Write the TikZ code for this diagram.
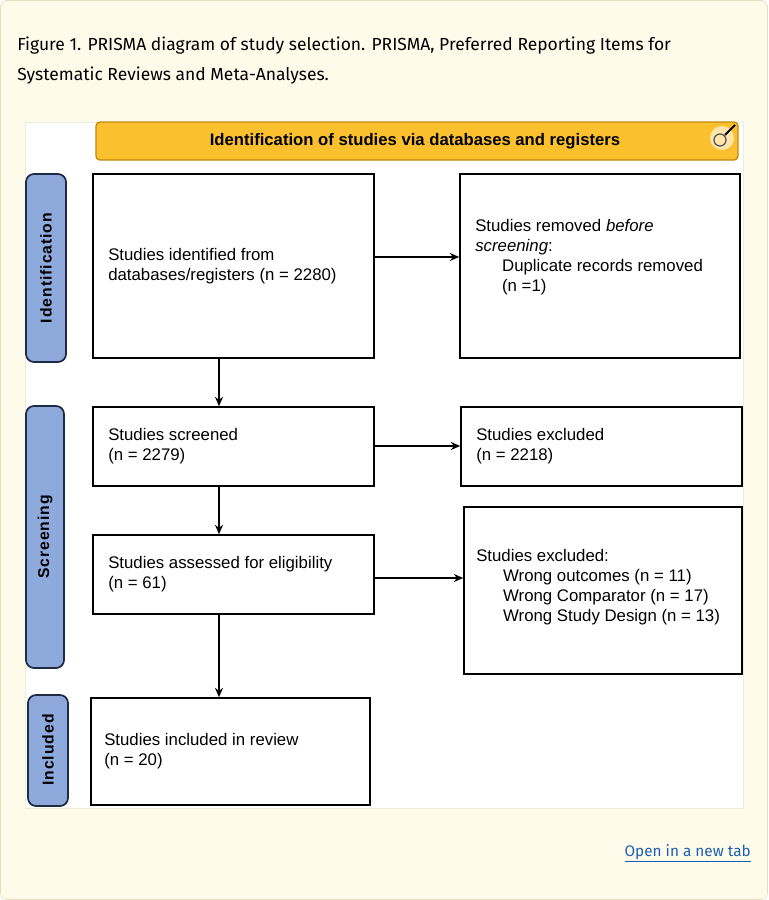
\documentclass[tikz,border=0pt]{standalone}
\usepackage{fontspec}
\setmainfont{Liberation Sans}
\newfontfamily\capfont{Fira Sans}
\usetikzlibrary{arrows.meta}
\definecolor{bgc}{HTML}{FFFBEB}
\definecolor{bgb}{HTML}{E8DFC0}
\definecolor{hdr}{HTML}{FBC02D}
\definecolor{hdrb}{HTML}{C08A10}
\definecolor{side}{HTML}{8EA9DB}
\definecolor{sideb}{HTML}{1F2A44}
\definecolor{lnk}{HTML}{1A5FB4}
\begin{document}
\begin{tikzpicture}[x=0.75pt,y=-0.75pt,
  box/.style={draw=black,line width=1.2pt,fill=white},
  txt/.style={font=\fontsize{12.6}{15}\selectfont,align=left,anchor=west,inner sep=0},
  sidel/.style={draw=sideb,line width=1.3pt,fill=side,rounded corners=6pt},
  sidet/.style={font=\addfontfeatures{LetterSpace=6}\bfseries\fontsize{11.8}{13}\selectfont,rotate=90},
  arr/.style={-{Stealth[length=7pt,width=6pt]},line width=1.2pt}]
\useasboundingbox (0,0) rectangle (768,900);
\draw[fill=bgc,draw=bgb,rounded corners=4pt] (0.5,0.5) rectangle (767.5,899.5);
\node[font=\capfont\fontsize{13.1}{22.5}\selectfont,align=left,anchor=north west,inner sep=0] (cap) at (17,37)
 {Figure 1. PRISMA diagram of study selection. PRISMA, Preferred Reporting Items for\\Systematic Reviews and Meta-Analyses.};
\draw[fill=white,draw=bgb!60] (25,122) rectangle (743,808);
\draw[fill=hdr,draw=hdrb,line width=1pt,rounded corners=3pt] (96,122) rectangle (738,160);
\node[font=\bfseries\fontsize{12.5}{14}\selectfont] (hd) at (415,141) {Identification of studies via databases and registers};
\fill[white,opacity=0.6] (722,138) circle (12);
\draw[gray!70!black,line width=1pt] (720,140) circle (6);
\draw[black,line width=1.5pt] (725,135) -- (735,125);
% side labels
\draw[sidel] (26,174) rectangle (66,362); \node[sidet] (s1) at (46,268) {Identification};
\draw[sidel] (26,406) rectangle (64,668); \node[sidet] (s2) at (45,537) {Screening};
\draw[sidel] (28,695) rectangle (68,806); \node[sidet] (s3) at (48,750) {Included};
% boxes
\node[box,minimum width=281*0.75pt,minimum height=184*0.75pt] (A) at (233.5,266) {};
\node[txt] at (108,266) {Studies identified from\\databases/registers (n = 2280)};
\node[box,minimum width=280*0.75pt,minimum height=184*0.75pt] (B) at (600,266) {};
\node[txt] at (475,257) {Studies removed \textit{before}\\\textit{screening}:\\\hspace{1.6em}Duplicate records removed\\\hspace{1.6em}(n =1)};
\node[box,minimum width=281*0.75pt,minimum height=79*0.75pt] (C) at (233.5,446.5) {};
\node[txt] at (108,446) {Studies screened\\(n = 2279)};
\node[box,minimum width=281*0.75pt,minimum height=79*0.75pt] (D) at (601.5,446.5) {};
\node[txt] at (476,446) {Studies excluded\\(n = 2218)};
\node[box,minimum width=281*0.75pt,minimum height=79*0.75pt] (E) at (233.5,574.5) {};
\node[txt] at (108,574) {Studies assessed for eligibility\\(n = 61)};
\node[box,minimum width=278*0.75pt,minimum height=167*0.75pt] (F) at (603,590.5) {};
\node[txt] at (476,587) {Studies excluded:\\\hspace{1.6em}Wrong outcomes (n = 11)\\\hspace{1.6em}Wrong Comparator (n = 17)\\\hspace{1.6em}Wrong Study Design (n = 13)};
\node[box,minimum width=279*0.75pt,minimum height=107*0.75pt] (G) at (230.5,751.5) {};
\node[txt] at (104,751) {Studies included in review\\(n = 20)};
% arrows
\draw[arr] (A.south -| 219,0) -- (C.north -| 219,0);
\draw[arr] (A.east |- 0,257) -- (B.west |- 0,257);
\draw[arr] (C.east |- 0,446) -- (D.west |- 0,446);
\draw[arr] (C.south -| 219,0) -- (E.north -| 219,0);
\draw[arr] (E.east |- 0,578) -- (F.west |- 0,578);
\draw[arr] (E.south -| 219,0) -- (G.north -| 219,0);
\node[font=\capfont\fontsize{11.5}{13}\selectfont,text=lnk,anchor=east,inner sep=0] (lk) at (751,853) {\underline{Open in a new tab}};
\end{tikzpicture}
\end{document}
